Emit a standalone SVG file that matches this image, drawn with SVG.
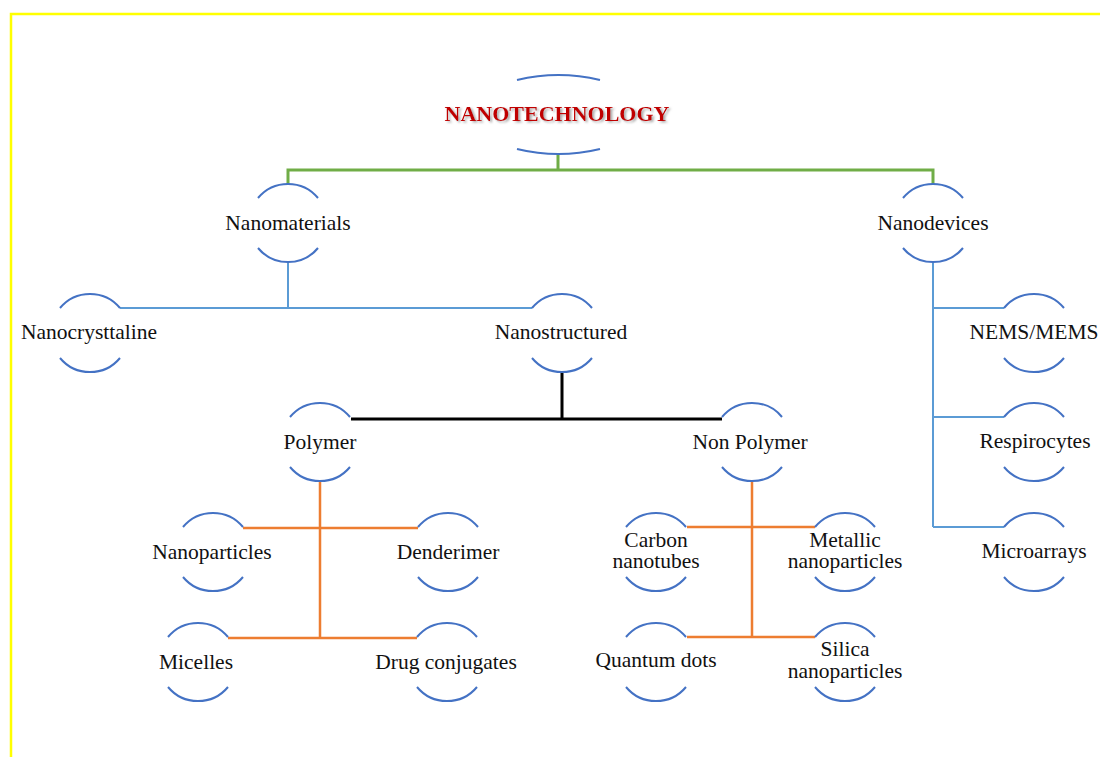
<svg xmlns="http://www.w3.org/2000/svg" width="1100" height="757" viewBox="0 0 1100 757">
<style>
.arc{fill:none;stroke:#4472c4;stroke-width:2}
.t{font-family:"Liberation Serif","Times New Roman",serif;font-size:21.5px;fill:#111;text-anchor:middle}
.title{font-family:"Liberation Serif","Times New Roman",serif;font-size:22px;font-weight:bold;fill:#c00000;text-anchor:middle}
.green{fill:none;stroke:#70ad47;stroke-width:3}
.blue{fill:none;stroke:#5b9bd5;stroke-width:2}
.black{fill:none;stroke:#000;stroke-width:3}
.orange{fill:none;stroke:#ed7d31;stroke-width:2.5}
</style>
<defs>
<filter id="shadow" x="-5%" y="-30%" width="110%" height="160%"><feDropShadow dx="2" dy="1.5" stdDeviation="1" flood-color="#888" flood-opacity="0.7"/></filter>
<path id="ca" d="M-30,-25 A39 39 0 0 1 30,-25 M-30,25 A39 39 0 0 0 30,25"/>
</defs>
<rect width="1100" height="757" fill="#fff"/>
<path d="M11,757 V14 H1100" fill="none" stroke="#ffff00" stroke-width="2.5"/>

<g id="connectors">
<path class="green" d="M558,154 V170 M288,184 V170 H933 V184"/>
<path class="blue" d="M288,262 V308 M120,308 H532"/>
<path class="black" d="M562,372 V419 M351,419 H722"/>
<path class="blue" d="M933,262 V527 M933,308 H1004 M933,417 H1004 M933,527 H1004"/>
<path class="orange" d="M320,481 V638 M243,528 H418 M228,638 H417"/>
<path class="orange" d="M752,481 V637 M687,527 H815 M687,637 H815"/>
</g>

<g id="n-nanotechnology">
<path class="arc" d="M517,80 A175 175 0 0 1 600,80 M517,149 A175 175 0 0 0 600,149"/>
<text class="title" x="557" y="121" filter="url(#shadow)">NANOTECHNOLOGY</text>
</g>
<g id="n-nanomaterials" transform="translate(288,223)"><use href="#ca" class="arc"/><text class="t" x="0" y="7">Nanomaterials</text></g>
<g id="n-nanodevices" transform="translate(933,223)"><use href="#ca" class="arc"/><text class="t" x="0" y="7">Nanodevices</text></g>
<g id="n-nanocrysttaline" transform="translate(90,333)"><use href="#ca" class="arc"/><text class="t" x="-1" y="6">Nanocrysttaline</text></g>
<g id="n-nanostructured" transform="translate(562,333)"><use href="#ca" class="arc"/><text class="t" x="-1" y="6">Nanostructured</text></g>
<g id="n-nems" transform="translate(1034,333)"><use href="#ca" class="arc"/><text class="t" x="0" y="6">NEMS/MEMS</text></g>
<g id="n-respirocytes" transform="translate(1034,442)"><use href="#ca" class="arc"/><text class="t" x="1" y="6">Respirocytes</text></g>
<g id="n-microarrays" transform="translate(1034,552)"><use href="#ca" class="arc"/><text class="t" x="0" y="6">Microarrays</text></g>
<g id="n-polymer" transform="translate(320,442)"><use href="#ca" class="arc"/><text class="t" x="0" y="7">Polymer</text></g>
<g id="n-nonpolymer" transform="translate(752,442)"><use href="#ca" class="arc"/><text class="t" x="-2" y="7">Non Polymer</text></g>
<g id="n-nanoparticles" transform="translate(213,552)"><use href="#ca" class="arc"/><text class="t" x="-1" y="7">Nanoparticles</text></g>
<g id="n-denderimer" transform="translate(448,552)"><use href="#ca" class="arc"/><text class="t" x="0" y="7">Denderimer</text></g>
<g id="n-micelles" transform="translate(198,662)"><use href="#ca" class="arc"/><text class="t" x="-2" y="7">Micelles</text></g>
<g id="n-drug" transform="translate(447,662)"><use href="#ca" class="arc"/><text class="t" x="-1" y="7">Drug conjugates</text></g>
<g id="n-carbon" transform="translate(656,552)"><use href="#ca" class="arc"/><text class="t" y="-5"><tspan x="0">Carbon</tspan><tspan x="0" dy="21">nanotubes</tspan></text></g>
<g id="n-metallic" transform="translate(845,552)"><use href="#ca" class="arc"/><text class="t" y="-5"><tspan x="0">Metallic</tspan><tspan x="0" dy="21">nanoparticles</tspan></text></g>
<g id="n-quantum" transform="translate(656,662)"><use href="#ca" class="arc"/><text class="t" x="0" y="5">Quantum dots</text></g>
<g id="n-silica" transform="translate(845,662)"><use href="#ca" class="arc"/><text class="t" y="-6"><tspan x="0">Silica</tspan><tspan x="0" dy="22">nanoparticles</tspan></text></g>
</svg>
